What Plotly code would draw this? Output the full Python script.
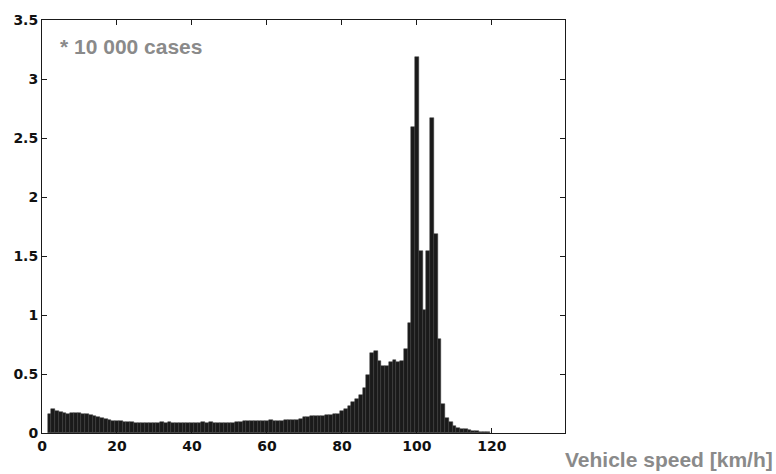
import plotly.graph_objects as go

# Bin centres (km/h) and bar heights (x 10 000 cases)
speed = list(range(2, 120))
counts = [
    0.165, 0.205, 0.19, 0.18, 0.172, 0.165, 0.168, 0.168, 0.168, 0.165,   # 2-11
    0.158, 0.15, 0.14, 0.132, 0.125, 0.115, 0.108, 0.105, 0.10, 0.098,    # 12-21
    0.095, 0.094, 0.092, 0.088, 0.085, 0.084, 0.084, 0.084, 0.084, 0.084, # 22-31
    0.09, 0.086, 0.09, 0.084, 0.084, 0.084, 0.084, 0.084, 0.084, 0.084,   # 32-41
    0.084, 0.09, 0.084, 0.09, 0.084, 0.085, 0.085, 0.086, 0.088, 0.088,   # 42-51
    0.09, 0.09, 0.10, 0.10, 0.10, 0.10, 0.10, 0.10, 0.10, 0.11,           # 52-61
    0.105, 0.105, 0.105, 0.108, 0.11, 0.11, 0.112, 0.12, 0.135, 0.138,    # 62-71
    0.14, 0.14, 0.145, 0.148, 0.15, 0.155, 0.16, 0.165, 0.19, 0.20,       # 72-81
    0.23, 0.26, 0.29, 0.32, 0.38, 0.495, 0.68, 0.695, 0.61, 0.565,        # 82-91
    0.565, 0.60, 0.62, 0.60, 0.61, 0.71, 0.93, 2.59, 3.19, 1.54,          # 92-101
    1.04, 1.54, 2.67, 1.69, 0.80, 0.25, 0.13, 0.09, 0.06, 0.045,          # 102-111
    0.035, 0.03, 0.025, 0.02, 0.015, 0.01, 0.008, 0.005,                  # 112-119
]

x_ticks = [0, 20, 40, 60, 80, 100, 120]
y_ticks = [0, 0.5, 1, 1.5, 2, 2.5, 3, 3.5]
y_tick_text = ["0", "0.5", "1", "1.5", "2", "2.5", "3", "3.5"]

fig = go.Figure()
fig.add_trace(go.Bar(
    x=speed, y=counts, width=1.0,
    marker=dict(color="#1a1a1a", line=dict(color="#3a3a3a", width=0.5)),
    showlegend=False,
))

axis_common = dict(
    showline=True, linecolor="#1a1a1a", linewidth=1, mirror="ticks",
    ticks="inside", ticklen=5, tickcolor="#1a1a1a", tickwidth=1,
    showgrid=False, zeroline=False,
    tickfont=dict(family="DejaVu Sans", size=14, color="#111111", weight="bold"),
)

fig.update_layout(
    width=776, height=474,
    margin=dict(l=42, r=211, t=18, b=41),
    paper_bgcolor="#ffffff", plot_bgcolor="#ffffff",
    bargap=0,
    xaxis=dict(range=[0, 139.5], tickvals=x_ticks, **axis_common),
    yaxis=dict(range=[0, 3.5], tickvals=y_ticks, ticktext=y_tick_text, **axis_common),
    annotations=[
        dict(text="* 10 000 cases", xref="paper", yref="paper",
             x=0.0306, y=0.935, xanchor="left", yanchor="middle", showarrow=False,
             font=dict(family="Liberation Sans", size=21, color="#8a8a8a", weight="bold")),
        dict(text="Vehicle speed [km/h]", xref="paper", yref="paper",
             x=1.4015, y=-0.0964, xanchor="right", yanchor="bottom", showarrow=False,
             font=dict(family="Liberation Sans", size=21, color="#8a8a8a", weight="bold")),
    ],
)

fig.write_html("out.html")
